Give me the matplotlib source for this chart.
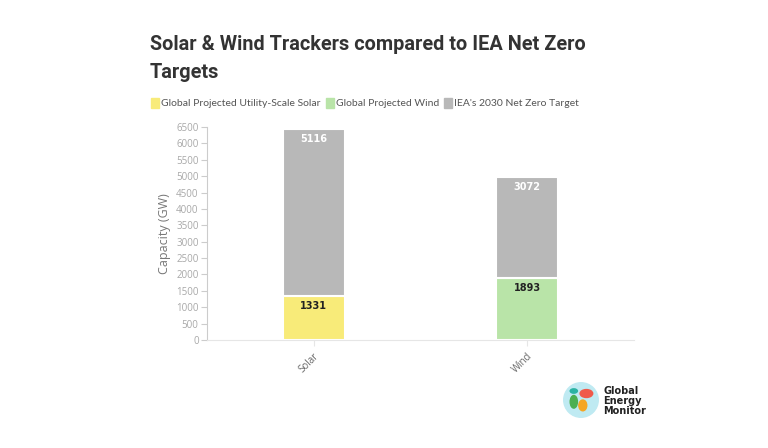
import matplotlib
matplotlib.use('Agg')
from matplotlib import pyplot as plt
from matplotlib.patches import Circle, Ellipse

categories = ['Solar', 'Wind']
trackerValues = [1331, 1893]
targetValues = [5116, 3072]
trackerColors = ['#f8eb79', '#b9e4a8']
targetColor = '#b8b8b8'
legendLabels = ['Global Projected Utility-Scale Solar', 'Global Projected Wind', "IEA's 2030 Net Zero Target"]
yTicks = list(range(0, 6501, 500))

plt.rcParams['font.family'] = ['Open Sans', 'DejaVu Sans']

fig = plt.figure(figsize=(7.68, 4.48), dpi=100)
ax = fig.add_axes([0.2695, 0.241, 0.556, 0.4755])

x = list(range(len(categories)))
ax.bar(x, trackerValues, width=0.29, color=trackerColors, edgecolor='white', linewidth=1.5)
ax.bar(x, targetValues, width=0.29, bottom=trackerValues, color=targetColor, edgecolor='white', linewidth=1.5)

for i in x:
    ax.text(i, trackerValues[i] - 150, str(trackerValues[i]), ha='center', va='top',
            fontsize=7, fontweight='bold', color='#222222', family='DejaVu Sans')
    ax.text(i, trackerValues[i] + targetValues[i] - 150, str(targetValues[i]), ha='center', va='top',
            fontsize=7, fontweight='bold', color='white', family='DejaVu Sans')

ax.set_xlim(-0.5, 1.5)
ax.set_ylim(0, 6500)
ax.set_yticks(yTicks)
ax.set_yticklabels([str(t) for t in yTicks], fontsize=7, color='#a8a8a8')
ax.set_xticks(x)
ax.set_xticklabels(categories, rotation=45, ha='right', rotation_mode='anchor', fontsize=7, color='#666666')
ax.tick_params(axis='y', length=4, color='#cccccc', pad=2)
ax.tick_params(axis='x', length=4, color='#e6e6e6', pad=4)
ax.spines['top'].set_visible(False)
ax.spines['right'].set_visible(False)
ax.spines['left'].set_color('#cccccc')
ax.spines['bottom'].set_color('#e6e6e6')
ax.set_ylabel('Capacity (GW)', fontsize=9, color='#777777', labelpad=4)

fig.text(150 / 768, 1 - 45 / 448, 'Solar & Wind Trackers compared to IEA Net Zero', fontsize=14.3,
         fontweight='bold', color='#333333', family='Roboto', va='center')
fig.text(150 / 768, 1 - 73 / 448, 'Targets', fontsize=14.3, fontweight='bold', color='#333333',
         family='Roboto', va='center')

# legend row
legendColors = [trackerColors[0], trackerColors[1], targetColor]
lx = 151
for label, color in zip(legendLabels, legendColors):
    fig.patches.append(plt.Rectangle((lx / 768, 1 - 108 / 448), 8 / 768, 10 / 448, color=color,
                                     transform=fig.transFigure, figure=fig))
    t = fig.text((lx + 10) / 768, 1 - 103 / 448, label, fontsize=7.5, color='#555555', va='center',
                 family='Lato')
    fig.canvas.draw()
    bb = t.get_window_extent()
    lx = bb.x1 + 5

# logo
logo = fig.add_axes([563 / 768, 1 - 418 / 448, 36 / 768, 36 / 448])
logo.set_aspect('equal')
logo.add_patch(Circle((0.5, 0.5), 0.48, color='#bfeaf2'))
logo.add_patch(Ellipse((0.3, 0.45), 0.2, 0.35, color='#4caf50'))
logo.add_patch(Ellipse((0.55, 0.35), 0.22, 0.3, color='#f5a623'))
logo.add_patch(Ellipse((0.65, 0.68), 0.35, 0.22, color='#f05a4a'))
logo.add_patch(Ellipse((0.3, 0.75), 0.2, 0.12, color='#2bb3a3'))
logo.set_xlim(0, 1)
logo.set_ylim(0, 1)
logo.axis('off')
fig.text(603 / 768, 1 - 401 / 448, 'Global\nEnergy\nMonitor', fontsize=7, fontweight='bold',
         color='#222222', va='center', linespacing=1.0, family='DejaVu Sans')

fig.savefig('out.png', dpi=100)
